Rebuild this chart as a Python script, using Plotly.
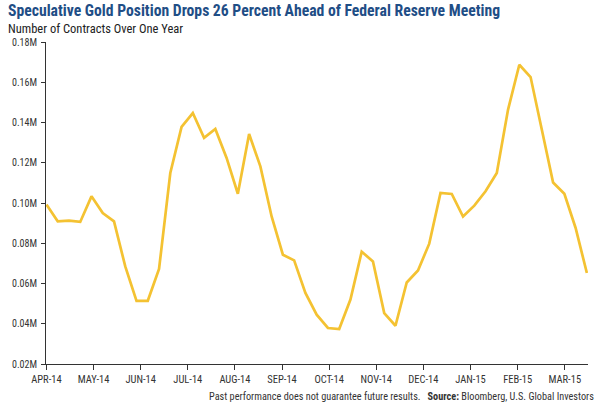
import plotly.graph_objects as go

# Weekly speculative gold net positions (millions of contracts), Apr-2014 .. Mar-2015
values = [0.0992, 0.0909, 0.0912, 0.0906, 0.1033, 0.0950, 0.0909, 0.0685, 0.0514, 0.0514,
          0.0672, 0.1149, 0.1378, 0.1447, 0.1324, 0.1368, 0.1224, 0.1046, 0.1343, 0.1182,
          0.0933, 0.0743, 0.0715, 0.0553, 0.0445, 0.0379, 0.0374, 0.0520, 0.0758, 0.0710,
          0.0453, 0.0390, 0.0605, 0.0665, 0.0798, 0.1050, 0.1045, 0.0933, 0.0987, 0.1058,
          0.1149, 0.1464, 0.1687, 0.1626, 0.1364, 0.1102, 0.1046, 0.0876, 0.0652]
month_labels = ["APR-14", "MAY-14", "JUN-14", "JUL-14", "AUG-14", "SEP-14",
                "OCT-14", "NOV-14", "DEC-14", "JAN-15", "FEB-15", "MAR-15"]
y_ticks = [0.02, 0.04, 0.06, 0.08, 0.10, 0.12, 0.14, 0.16, 0.18]

weeks = list(range(len(values)))
weeks_per_month = 4.185
tick_pos = [i * weeks_per_month for i in range(len(month_labels))]

FONT = "Roboto Condensed, Roboto, sans-serif"
AXIS = "#333333"

fig = go.Figure()
fig.add_trace(go.Scatter(x=weeks, y=values, mode="lines",
                         line=dict(color="#F4C232", width=2.7),
                         hoverinfo="skip", showlegend=False))

W_PLOT = 547.0
H_PLOT = 322.0
fig.update_layout(
    width=601, height=406,
    margin=dict(l=41, r=13, t=42, b=42),
    paper_bgcolor="white", plot_bgcolor="white",
    font=dict(family=FONT, size=10, color="#333333"),
)
fig.update_xaxes(range=[-0.04, 48.1], tickvals=tick_pos, ticktext=month_labels,
                 showgrid=False, zeroline=False, showline=True, linecolor=AXIS,
                 linewidth=1, ticks="outside", ticklen=5, tickcolor=AXIS,
                 tickfont=dict(family=FONT, size=10.5, color="#333333"))
fig.update_yaxes(range=[0.02, 0.18], tickvals=y_ticks,
                 ticktext=[f"{v:.2f}M" for v in y_ticks],
                 showgrid=False, zeroline=False, showline=True, linecolor=AXIS,
                 linewidth=1, ticks="outside", ticklen=4, tickcolor=AXIS,
                 ticklabelstandoff=2,
                 tickfont=dict(family=FONT, size=10, color="#333333"))

fig.add_annotation(text="<b>Speculative Gold Position Drops 26 Percent Ahead of Federal Reserve Meeting</b>",
                   xref="paper", yref="paper", x=-40/W_PLOT, y=1 + 31/H_PLOT, xanchor="left", yanchor="middle",
                   showarrow=False, font=dict(family=FONT, size=15.7, color="#1F4E86"))
fig.add_annotation(text="Number of Contracts Over One Year",
                   xref="paper", yref="paper", x=-40/W_PLOT, y=1 + 13.5/H_PLOT, xanchor="left", yanchor="middle",
                   showarrow=False, font=dict(family=FONT, size=12.5, color="#222222"))
fig.add_annotation(text="Past performance does not guarantee future results.   <b>Source:</b> Bloomberg, U.S. Global Investors",
                   xref="paper", yref="paper", x=1 + 8/W_PLOT, y=-32/H_PLOT, xanchor="right", yanchor="middle",
                   showarrow=False, font=dict(family=FONT, size=10.25, color="#333333"))

fig.write_html("out.html", config={"displayModeBar": False},
               post_script="document.body.style.margin='0';document.body.style.overflow='hidden';")
